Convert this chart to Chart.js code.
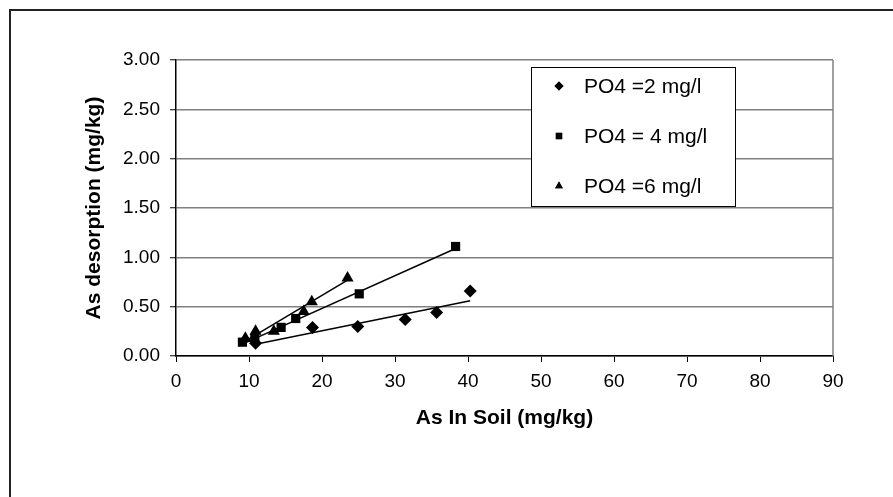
<!DOCTYPE html>
<html>
<head>
<meta charset="utf-8">
<script src="https://cdn.jsdelivr.net/npm/chart.js@4.4.1/dist/chart.umd.min.js"></script>
<style>
  html, body { margin: 0; padding: 0; background: #fff; }
  #wrap { position: relative; width: 893px; height: 497px; overflow: hidden; }
  #frame { position: absolute; left: 9px; top: 9px; width: 1000px; height: 1000px;
           border-top: 2px solid #222; border-left: 2px solid #222; pointer-events: none; }
  canvas { position: absolute; left: 0; top: 0; }
</style>
</head>
<body>
<div id="wrap">
  <canvas id="chart" width="893" height="497"></canvas>
  <div id="frame"></div>
</div>
<script>
// ==================== DATA ====================
const seriesLabels = ['PO4 =2 mg/l', 'PO4 = 4 mg/l', 'PO4 =6 mg/l'];

const soil2 = [10.9, 18.7, 24.9, 31.4, 35.7, 40.3];
const desorb2 = [0.13, 0.29, 0.30, 0.37, 0.44, 0.66];

const soil4 = [9.1, 10.8, 14.4, 16.4, 25.1, 38.3];
const desorb4 = [0.14, 0.18, 0.29, 0.38, 0.63, 1.11];

const soil6 = [9.5, 10.9, 13.4, 17.5, 18.6, 23.5];
const desorb6 = [0.18, 0.25, 0.25, 0.45, 0.55, 0.79];

// trend line end points
const trend2X = [10.9, 40.3], trend2Y = [0.12, 0.56];
const trend4X = [9.1, 38.3], trend4Y = [0.12, 1.09];
const trend6X = [9.5, 23.5], trend6Y = [0.15, 0.77];

const xTicks = [0, 10, 20, 30, 40, 50, 60, 70, 80, 90];
const yTickLabels = ['0.00', '0.50', '1.00', '1.50', '2.00', '2.50', '3.00'];

const xTitle = 'As In Soil (mg/kg)';
const yTitle = 'As desorption (mg/kg)';

// ==================== HELPERS ====================
const FONT = "'Liberation Sans', Arial, sans-serif";
const toPoints = (xs, ys) => xs.map((x, i) => ({ x: x, y: ys[i] }));

const markerStyles = ['rectRot', 'rect', 'triangle'];
const markerRadius = [6.5, 6.5, 7];

function scatterSet(i, xs, ys) {
    return {
        label: seriesLabels[i],
        data: toPoints(xs, ys),
        showLine: false,
        pointStyle: markerStyles[i],
        pointRadius: markerRadius[i],
        pointBackgroundColor: '#000',
        pointBorderColor: '#000',
        pointBorderWidth: 0,
        order: 1
    };
}

function trendSet(xs, ys) {
    return {
        label: '',
        isTrend: true,
        data: toPoints(xs, ys),
        showLine: true,
        borderColor: '#000',
        borderWidth: 1.5,
        pointRadius: 0,
        order: 2
    };
}

// plot right border + boxed legend
const extrasPlugin = {
    id: 'extras',
    afterDraw(chart) {
        const ctx = chart.ctx;
        const a = chart.chartArea;
        ctx.save();
        ctx.strokeStyle = '#808080';
        ctx.lineWidth = 1.5;
        ctx.beginPath();
        ctx.moveTo(a.right, a.top);
        ctx.lineTo(a.right, a.bottom);
        ctx.stroke();

        // legend box
        const bx = 531, by = 67, bw = 204, bh = 139;
        ctx.fillStyle = '#fff';
        ctx.fillRect(bx, by, bw, bh);
        ctx.strokeStyle = '#000';
        ctx.lineWidth = 1;
        ctx.strokeRect(bx + 0.5, by + 0.5, bw, bh);

        const sets = chart.data.datasets.filter(d => !d.isTrend);
        ctx.font = '21px ' + FONT;
        ctx.textBaseline = 'middle';
        ctx.textAlign = 'left';
        sets.forEach((ds, i) => {
            const cy = by + 19 + i * 50;
            ctx.fillStyle = '#000';
            Chart.helpers.drawPoint(ctx, {
                pointStyle: ds.pointStyle, radius: 4.5, rotation: 0, borderWidth: 0
            }, 559, cy);
            ctx.fill();
            ctx.fillText(ds.label, 584, cy + 1);
        });
        ctx.restore();
    }
};

// ==================== CHART ====================
new Chart(document.getElementById('chart'), {
    type: 'scatter',
    data: {
        datasets: [
            scatterSet(0, soil2, desorb2),
            scatterSet(1, soil4, desorb4),
            scatterSet(2, soil6, desorb6),
            trendSet(trend2X, trend2Y),
            trendSet(trend4X, trend4Y),
            trendSet(trend6X, trend6Y)
        ]
    },
    options: {
        responsive: false,
        animation: false,
        layout: { padding: { left: 80, top: 60, right: 60, bottom: 66 } },
        plugins: {
            legend: { display: false },
            tooltip: { enabled: false }
        },
        scales: {
            x: {
                type: 'linear',
                min: xTicks[0],
                max: xTicks[xTicks.length - 1],
                afterBuildTicks: s => { s.ticks = xTicks.map(v => ({ value: v })); },
                afterFit: s => { s.height = 75; },
                grid: { drawOnChartArea: false, tickLength: 6, tickColor: '#000', tickWidth: 1 },
                border: { color: '#000', width: 1.5 },
                ticks: { color: '#000', font: { family: FONT, size: 19 }, padding: 8, maxRotation: 0 },
                title: { display: true, text: xTitle, color: '#000',
                         font: { family: FONT, size: 21, weight: 'bold' }, padding: { top: 14, bottom: 0 } }
            },
            y: {
                type: 'linear',
                min: 0,
                max: 3,
                afterBuildTicks: s => { s.ticks = yTickLabels.map(t => ({ value: parseFloat(t) })); },
                afterFit: s => { s.width = 96; },
                grid: { color: '#808080', lineWidth: 1.5, tickLength: 6, tickColor: '#000', tickWidth: 1 },
                border: { color: '#000', width: 1.5 },
                ticks: { color: '#000', font: { family: FONT, size: 19 }, padding: 10,
                         callback: (v, i) => yTickLabels[i] },
                title: { display: true, text: yTitle, color: '#000',
                         font: { family: FONT, size: 21, weight: 'bold' }, padding: { top: 2, bottom: 0 } }
            }
        }
    },
    plugins: [extrasPlugin]
});
</script>
</body>
</html>
